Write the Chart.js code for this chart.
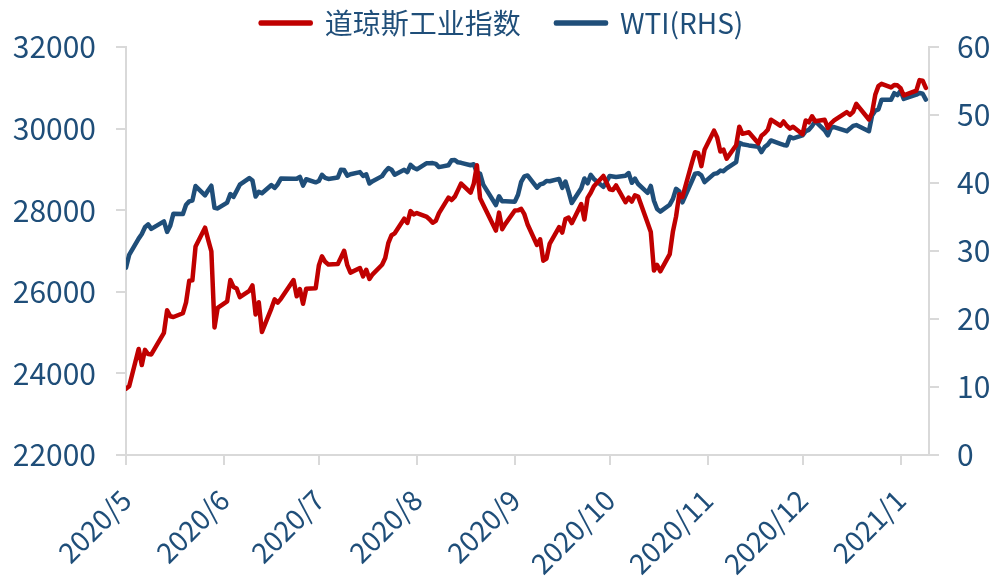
<!DOCTYPE html>
<html>
<head>
<meta charset="utf-8">
<script src="https://cdn.jsdelivr.net/npm/chart.js@4/dist/chart.umd.min.js"></script>
<style>
  html, body { margin: 0; padding: 0; background: #fff; }
  #wrap { width: 994px; height: 576px; }
</style>
</head>
<body>
<div id="wrap"><canvas id="chart"></canvas></div>
<script>
// trading days, 2020/5/14 .. 2021/1/22
const dates = [
  '2020-05-14','2020-05-15','2020-05-18','2020-05-19','2020-05-20','2020-05-21','2020-05-22','2020-05-26','2020-05-27','2020-05-28','2020-05-29',
  '2020-06-01','2020-06-02','2020-06-03','2020-06-04','2020-06-05','2020-06-08','2020-06-09','2020-06-10','2020-06-11','2020-06-12',
  '2020-06-15','2020-06-16','2020-06-17','2020-06-18','2020-06-19','2020-06-22','2020-06-23','2020-06-24','2020-06-25','2020-06-26','2020-06-29','2020-06-30',
  '2020-07-01','2020-07-02','2020-07-06','2020-07-07','2020-07-08','2020-07-09','2020-07-10','2020-07-13','2020-07-14','2020-07-15','2020-07-16',
  '2020-07-17','2020-07-20','2020-07-21','2020-07-22','2020-07-23','2020-07-24','2020-07-27','2020-07-28','2020-07-29','2020-07-30','2020-07-31',
  '2020-08-03','2020-08-04','2020-08-05','2020-08-06','2020-08-07','2020-08-10','2020-08-11','2020-08-12','2020-08-13','2020-08-14',
  '2020-08-17','2020-08-18','2020-08-19','2020-08-20','2020-08-21','2020-08-24','2020-08-25','2020-08-26','2020-08-27','2020-08-28','2020-08-31',
  '2020-09-01','2020-09-02','2020-09-03','2020-09-04','2020-09-08','2020-09-09','2020-09-10','2020-09-11','2020-09-14','2020-09-15','2020-09-16',
  '2020-09-17','2020-09-18','2020-09-21','2020-09-22','2020-09-23','2020-09-24','2020-09-25','2020-09-28','2020-09-29','2020-09-30',
  '2020-10-01','2020-10-02','2020-10-05','2020-10-06','2020-10-07','2020-10-08','2020-10-09','2020-10-12','2020-10-13','2020-10-14','2020-10-15',
  '2020-10-16','2020-10-19','2020-10-20','2020-10-21','2020-10-22','2020-10-23','2020-10-26','2020-10-27','2020-10-28','2020-10-29','2020-10-30',
  '2020-11-02','2020-11-03','2020-11-04','2020-11-05','2020-11-06','2020-11-09','2020-11-10','2020-11-11','2020-11-12','2020-11-13',
  '2020-11-16','2020-11-17','2020-11-18','2020-11-19','2020-11-20','2020-11-23','2020-11-24','2020-11-25','2020-11-27','2020-11-30',
  '2020-12-01','2020-12-02','2020-12-03','2020-12-04','2020-12-07','2020-12-08','2020-12-09','2020-12-10','2020-12-11','2020-12-14','2020-12-15',
  '2020-12-16','2020-12-17','2020-12-18','2020-12-21','2020-12-22','2020-12-23','2020-12-24','2020-12-28','2020-12-29','2020-12-30','2020-12-31',
  '2021-01-04','2021-01-05','2021-01-06','2021-01-07','2021-01-08','2021-01-11','2021-01-12','2021-01-13','2021-01-14','2021-01-15',
  '2021-01-19','2021-01-20','2021-01-21','2021-01-22'
];

const dowValues = [
  23625, 23685, 24597, 24207, 24576, 24474, 24465, 24995, 25548, 25401, 25383,
  25475, 25742, 26270, 26282, 27111, 27572, 27273, 26990, 25128, 25606,
  25763, 26290, 26120, 26080, 25871, 26025, 26156, 25445, 25745, 25016, 25595, 25813,
  25735, 25827, 26287, 25890, 26067, 25706, 26075, 26086, 26643, 26870, 26735,
  26672, 26681, 26840, 27005, 26652, 26470, 26584, 26379, 26540, 26314, 26428,
  26664, 26828, 27201, 27387, 27433, 27791, 27687, 27977, 27897, 27931,
  27845, 27778, 27692, 27740, 27930, 28308, 28249, 28332, 28492, 28654, 28430,
  28646, 29100, 28293, 28133, 27501, 27940, 27535, 27666, 27993, 27996, 28032,
  27902, 27657, 27148, 27288, 26763, 26815, 27174, 27584, 27453, 27782,
  27817, 27683, 28149, 27773, 28303, 28426, 28587, 28838, 28680, 28514, 28494,
  28606, 28195, 28309, 28211, 28364, 28336, 27685, 27463, 26520, 26659, 26502,
  26925, 27480, 27848, 28390, 28323, 29158, 29421, 29398, 29080, 29480,
  29950, 29783, 29438, 29483, 29263, 29591, 30046, 29872, 29910, 29639,
  29824, 29884, 29970, 30218, 30070, 30174, 30069, 29999, 30046, 29862, 30200,
  30155, 30303, 30179, 30216, 30016, 30130, 30200, 30404, 30336, 30410, 30606,
  30224, 30392, 30829, 31041, 31098, 31009, 31069, 31060, 30992, 30814,
  30931, 31188, 31176, 30997
];

const wtiValues = [
  27.56, 29.43, 31.82, 32.50, 33.49, 33.92, 33.25, 34.35, 32.81, 33.71, 35.49,
  35.44, 36.81, 37.29, 37.41, 39.55, 38.19, 38.94, 39.60, 36.34, 36.26,
  37.12, 38.38, 37.96, 38.84, 39.75, 40.73, 40.37, 38.01, 38.72, 38.49, 39.70, 39.27,
  39.82, 40.65, 40.63, 40.62, 40.90, 39.62, 40.55, 40.10, 40.29, 41.20, 40.75,
  40.59, 40.81, 41.96, 41.90, 41.07, 41.29, 41.60, 41.04, 41.27, 39.92, 40.27,
  41.01, 41.70, 42.19, 41.95, 41.22, 41.94, 41.61, 42.67, 42.24, 42.01,
  42.89, 42.89, 42.93, 42.82, 42.34, 42.62, 43.35, 43.39, 43.04, 42.97, 42.61,
  42.76, 41.51, 41.37, 39.77, 36.76, 38.05, 37.30, 37.33, 37.26, 38.28, 40.16,
  40.97, 41.11, 39.31, 39.80, 39.93, 40.31, 40.25, 40.60, 39.29, 40.22,
  38.72, 37.05, 39.22, 40.67, 39.95, 41.19, 40.60, 39.43, 40.20, 41.04, 40.96,
  40.88, 41.06, 41.46, 40.03, 40.64, 39.85, 38.56, 39.57, 37.39, 36.17, 35.79,
  36.81, 37.66, 39.15, 38.79, 37.14, 40.29, 41.36, 41.45, 41.12, 40.13,
  41.34, 41.43, 41.82, 41.74, 42.15, 43.06, 45.91, 45.71, 45.53, 45.34,
  44.55, 45.28, 45.64, 46.26, 45.76, 45.60, 45.52, 46.78, 46.57, 46.99, 47.62,
  47.82, 48.36, 49.10, 47.74, 47.02, 48.12, 48.23, 47.62, 48.00, 48.40, 48.52,
  47.62, 49.93, 50.63, 50.83, 52.24, 52.25, 53.21, 52.91, 53.57, 52.36,
  52.98, 53.24, 53.13, 52.27
];

// month ticks of the date axis (axis starts on 5/14)
const tickDates = ['2020-05-14','2020-06-14','2020-07-14','2020-08-14','2020-09-14','2020-10-14','2020-11-14','2020-12-14','2021-01-14'];
const tickLabels = ['2020/5','2020/6','2020/7','2020/8','2020/9','2020/10','2020/11','2020/12','2021/1'];
const axisStart = '2020-05-14';
const axisEnd = '2021-01-23';

const textColor = '#1F4E79';
const axisColor = '#D9D9D9';
const fontFamily = "'Noto Sans CJK SC', 'Noto Sans', sans-serif";

function dayOf(s) {
    return Math.round((Date.parse(s) - Date.parse(axisStart)) / 86400000);
}
const tickDays = tickDates.map(dayOf);

const axisGrid = { drawOnChartArea: false, tickLength: 10, color: axisColor, lineWidth: 2 };
const axisBorder = { color: axisColor, width: 2 };

new Chart(document.getElementById('chart'), {
    type: 'line',
    data: {
        datasets: [{
            label: '道琼斯工业指数',
            data: dates.map((d, i) => ({ x: dayOf(d), y: dowValues[i] })),
            borderColor: '#C00000',
            backgroundColor: '#C00000',
            borderWidth: 4.5,
            yAxisID: 'y'
        }, {
            label: 'WTI(RHS)',
            data: dates.map((d, i) => ({ x: dayOf(d), y: wtiValues[i] })),
            borderColor: '#1F4E79',
            backgroundColor: '#1F4E79',
            borderWidth: 4.5,
            yAxisID: 'y1'
        }]
    },
    options: {
        responsive: true,
        maintainAspectRatio: false,
        animation: false,
        elements: {
            point: { radius: 0 },
            line: { tension: 0, borderJoinStyle: 'round', borderCapStyle: 'round' }
        },
        layout: { padding: { left: 10, right: 0, top: 8, bottom: 0 } },
        plugins: {
            tooltip: { enabled: false },
            legend: {
                position: 'top',
                labels: {
                    color: textColor,
                    font: { family: fontFamily, size: 28 },
                    boxWidth: 50,
                    boxHeight: 1,
                    padding: 1,
                    // wider gap between the two entries
                    generateLabels: (chart) => {
                        const items = Chart.defaults.plugins.legend.labels.generateLabels(chart);
                        items.forEach((it, i) => { if (i < items.length - 1) it.text += '\u3000 '; });
                        return items;
                    }
                }
            }
        },
        scales: {
            x: {
                type: 'linear',
                min: 0,
                max: dayOf(axisEnd),
                afterBuildTicks: (axis) => { axis.ticks = tickDays.map(v => ({ value: v })); },
                afterFit: (axis) => { axis.height = 121; },
                ticks: {
                    autoSkip: false,
                    maxRotation: 45,
                    minRotation: 45,
                    padding: 18,
                    color: textColor,
                    font: { family: fontFamily, size: 28 },
                    callback: (value) => tickLabels[tickDays.indexOf(value)]
                },
                grid: axisGrid,
                border: axisBorder
            },
            y: {
                position: 'left',
                min: 22000,
                max: 32000,
                afterFit: (axis) => { axis.width = 116; },
                ticks: {
                    stepSize: 2000,
                    padding: 20,
                    color: textColor,
                    font: { family: fontFamily, size: 30 },
                    callback: (value) => String(value)
                },
                grid: axisGrid,
                border: axisBorder
            },
            y1: {
                position: 'right',
                min: 0,
                max: 60,
                afterFit: (axis) => { axis.width = 65; },
                ticks: {
                    stepSize: 10,
                    padding: 18,
                    color: textColor,
                    font: { family: fontFamily, size: 30 }
                },
                grid: axisGrid,
                border: axisBorder
            }
        }
    }
});
</script>
</body>
</html>
